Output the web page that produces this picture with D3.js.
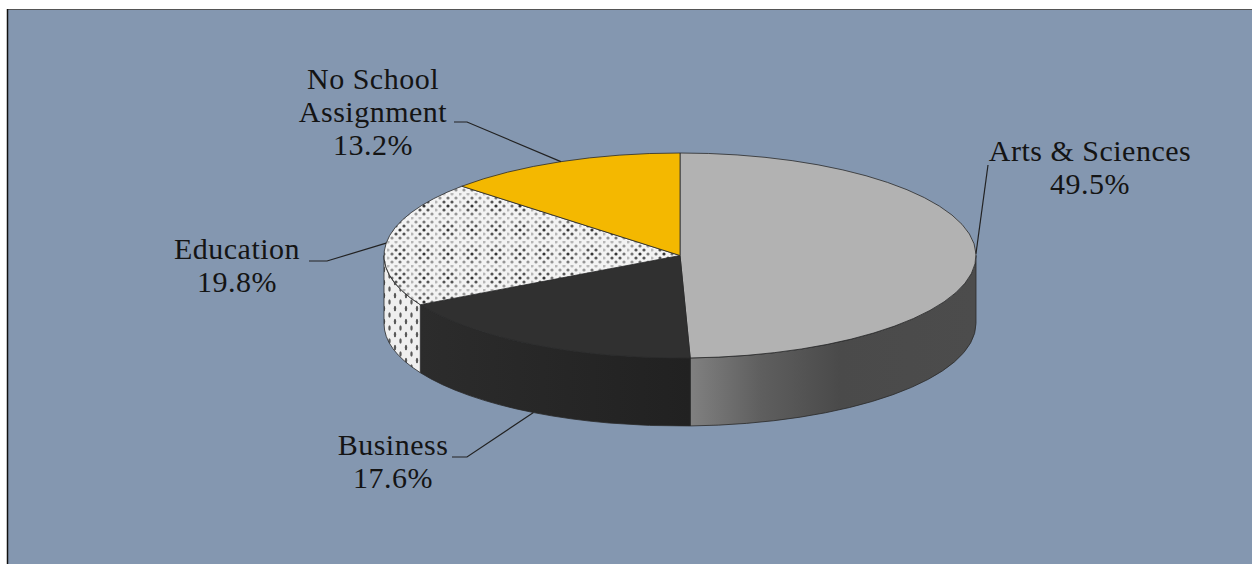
<!DOCTYPE html>
<html>
<head>
<meta charset="utf-8">
<script src="https://cdn.jsdelivr.net/npm/d3@7"></script>
<style>
  html, body { margin: 0; padding: 0; background: #fff; }
  svg { display: block; }
  text { font-family: "Liberation Serif", serif; font-size: 30px; letter-spacing: 0.5px; fill: #141414; text-anchor: middle; }
</style>
</head>
<body>
<script>
const categories = ["Arts & Sciences", "Business", "Education", "No School Assignment"]
const values = [49.5, 17.6, 19.8, 13.2]
const labelLines = [["Arts & Sciences"], ["Business"], ["Education"], ["No School", "Assignment"]]

const width = 1252
const height = 564
const cx = 680
const cy = 255.5
const rx = 296
const ry = 102.5
const depth = 68
const lineHeight = 33

// label placement: text centre, first baseline, elbow of the leader line
const labelLayout = [
    { x: 1090, y: 161, elbow: [988, 165], start: null },
    { x: 393, y: 455, elbow: [467, 457], start: [452, 457] },
    { x: 237, y: 259, elbow: [327, 261], start: [309, 261] },
    { x: 373, y: 89, elbow: [467, 122], start: [454, 122] }
]

const topColors = ["#b2b2b2", "#303030", "url(#dotsTop)", "#f4b800"]
const wallColors = ["url(#artsWall)", "url(#businessWall)", "url(#dotsWall)", "none"]

const svg = d3.select("body").append("svg")
    .attr("width", width)
    .attr("height", height)

const defs = svg.append("defs")

function gradient(id, stops) {
    defs.append("linearGradient")
        .attr("id", id)
        .attr("gradientUnits", "userSpaceOnUse")
        .attr("x1", stops[0][0]).attr("x2", stops[stops.length - 1][0])
        .attr("y1", 0).attr("y2", 0)
        .selectAll("stop")
        .data(stops)
        .join("stop")
        .attr("offset", d => (d[0] - stops[0][0]) / (stops[stops.length - 1][0] - stops[0][0]))
        .attr("stop-color", d => d[1])
}
gradient("artsWall", [[691, "#808080"], [760, "#5f5f5f"], [840, "#4a4a4a"], [976, "#4c4c4c"]])
gradient("businessWall", [[420, "#2c2c2c"], [691, "#212121"]])

// dotted fill of the Education slice, with the plaid moire of the original
const tile = 24
const step = 4
const dotsTop = defs.append("pattern")
    .attr("id", "dotsTop")
    .attr("patternUnits", "userSpaceOnUse")
    .attr("x", 3).attr("y", 1)
    .attr("width", tile).attr("height", tile)
dotsTop.append("rect").attr("width", tile).attr("height", tile).attr("fill", "#f3f3f3")
dotsTop.selectAll("circle")
    .data(d3.cross(d3.range(0, tile, step), d3.range(0, tile, step)).filter(([a, b]) => (a + b) % (step * 2) === 0))
    .join("circle")
    .attr("cx", d => d[0] + 1)
    .attr("cy", d => d[1] + 1)
    .attr("r", 1.6)
    .attr("fill", "#2a2a2a")
    .attr("fill-opacity", d => 0.3 + 0.65 * Math.abs(Math.sin(Math.PI * d[0] / tile) * Math.sin(Math.PI * d[1] / tile)))

const dotsWall = defs.append("pattern")
    .attr("id", "dotsWall")
    .attr("patternUnits", "userSpaceOnUse")
    .attr("x", 2).attr("y", 0)
    .attr("width", 11).attr("height", 13)
dotsWall.append("rect").attr("width", 11).attr("height", 13).attr("fill", "#efefef")
dotsWall.selectAll("ellipse")
    .data([[2.5, 3], [8, 9.5]])
    .join("ellipse")
    .attr("cx", d => d[0])
    .attr("cy", d => d[1])
    .attr("rx", 1.2)
    .attr("ry", 2.8)
    .attr("fill", "#333")
    .attr("fill-opacity", 0.8)

svg.append("rect")
    .attr("x", 7.5).attr("y", 9.5)
    .attr("width", width).attr("height", height)
    .attr("fill", "#8497b0")
svg.append("line")
    .attr("x1", 7).attr("x2", width).attr("y1", 9.5).attr("y2", 9.5)
    .attr("stroke", "#555").attr("stroke-width", 1)
svg.append("line")
    .attr("x1", 7.5).attr("x2", 7.5).attr("y1", 9).attr("y2", height)
    .attr("stroke", "#111").attr("stroke-width", 1.5)

const pie = d3.pie().sort(null).value(d => d)
const slices = pie(values)

function point(angle, dy = 0) {
    return [cx + rx * Math.sin(angle), cy - ry * Math.cos(angle) + dy]
}

function topPath(d) {
    const [x0, y0] = point(d.startAngle)
    const [x1, y1] = point(d.endAngle)
    const large = d.endAngle - d.startAngle > Math.PI ? 1 : 0
    return `M${cx},${cy}L${x0},${y0}A${rx},${ry} 0 ${large} 1 ${x1},${y1}Z`
}

function wallPath(d) {
    const a0 = Math.max(d.startAngle, Math.PI / 2)
    const a1 = Math.min(d.endAngle, Math.PI * 1.5)
    if (a1 <= a0) return null
    const [x0, y0] = point(a0)
    const [x1, y1] = point(a1)
    const [x2, y2] = point(a1, depth)
    const [x3, y3] = point(a0, depth)
    return `M${x0},${y0}A${rx},${ry} 0 0 1 ${x1},${y1}L${x2},${y2}A${rx},${ry} 0 0 0 ${x3},${y3}Z`
}

svg.append("g")
    .selectAll("path")
    .data(slices)
    .join("path")
    .attr("d", wallPath)
    .attr("fill", (d, i) => wallColors[i])
    .attr("stroke", "#2a2a2a")
    .attr("stroke-width", 0.8)

svg.append("g")
    .selectAll("path")
    .data(slices)
    .join("path")
    .attr("d", topPath)
    .attr("fill", (d, i) => topColors[i])
    .attr("stroke", "#2a2a2a")
    .attr("stroke-width", 0.8)

// leader lines end at the middle of each slice, on the rim
const line = d3.line()
svg.append("g")
    .selectAll("path")
    .data(slices)
    .join("path")
    .attr("d", (d, i) => {
        const mid = (d.startAngle + d.endAngle) / 2
        const front = Math.cos(mid) < 0 && Math.abs(Math.sin(mid)) < 0.9
        const pts = [labelLayout[i].elbow, point(mid, front ? depth : 0)]
        if (labelLayout[i].start) pts.unshift(labelLayout[i].start)
        return line(pts)
    })
    .attr("fill", "none")
    .attr("stroke", "#222")
    .attr("stroke-width", 1.2)

const labels = svg.append("g")
    .selectAll("text")
    .data(slices)
    .join("text")
    .attr("data-category", (d, i) => categories[i])
    .attr("x", (d, i) => labelLayout[i].x)
    .attr("y", (d, i) => labelLayout[i].y)

labels.selectAll("tspan")
    .data((d, i) => labelLines[i].concat(d3.format(".1f")(values[i]) + "%").map(t => ({ t, x: labelLayout[i].x })))
    .join("tspan")
    .attr("x", d => d.x)
    .attr("dy", (d, i) => i ? lineHeight : 0)
    .text(d => d.t)
</script>
</body>
</html>
